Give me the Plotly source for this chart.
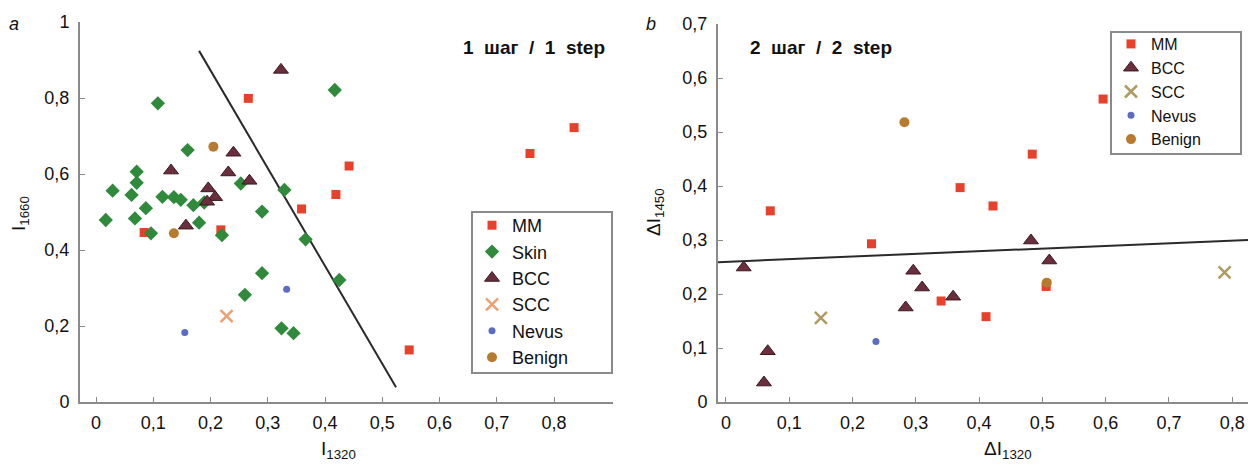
import plotly.graph_objects as go

# ---------------- Panel a data ----------------
mm_a_x = [0.266, 0.835, 0.758, 0.442, 0.419, 0.359, 0.084, 0.218, 0.547]
mm_a_y = [0.799, 0.722, 0.654, 0.621, 0.546, 0.508, 0.446, 0.453, 0.137]
skin_a_x = [0.108, 0.417, 0.160, 0.071, 0.071, 0.253, 0.329, 0.029, 0.062, 0.116, 0.136, 0.148, 0.170, 0.189,
            0.087, 0.290, 0.017, 0.068, 0.180, 0.366, 0.096, 0.220, 0.290, 0.260, 0.324, 0.345, 0.425]
skin_a_y = [0.786, 0.821, 0.663, 0.606, 0.577, 0.575, 0.558, 0.556, 0.545, 0.540, 0.539, 0.532, 0.518, 0.525,
            0.510, 0.501, 0.479, 0.483, 0.472, 0.428, 0.444, 0.439, 0.339, 0.282, 0.194, 0.181, 0.321]
bcc_a_x = [0.323, 0.240, 0.131, 0.231, 0.268, 0.196, 0.208, 0.194, 0.157]
bcc_a_y = [0.874, 0.656, 0.609, 0.604, 0.582, 0.562, 0.539, 0.527, 0.464]
scc_a_x = [0.228]
scc_a_y = [0.226]
nevus_a_x = [0.333, 0.155]
nevus_a_y = [0.297, 0.183]
benign_a_x = [0.205, 0.136]
benign_a_y = [0.672, 0.444]
line_a_x = [0.180, 0.524]
line_a_y = [0.924, 0.039]

# ---------------- Panel b data ----------------
mm_b_x = [0.596, 0.484, 0.370, 0.422, 0.070, 0.230, 0.340, 0.411, 0.506]
mm_b_y = [0.561, 0.459, 0.397, 0.363, 0.354, 0.293, 0.187, 0.158, 0.214]
bcc_b_x = [0.028, 0.296, 0.310, 0.284, 0.066, 0.060, 0.482, 0.511, 0.359]
bcc_b_y = [0.249, 0.243, 0.212, 0.175, 0.094, 0.036, 0.299, 0.262, 0.195]
scc_b_x = [0.150, 0.788]
scc_b_y = [0.156, 0.240]
nevus_b_x = [0.237]
nevus_b_y = [0.112]
benign_b_x = [0.282, 0.507]
benign_b_y = [0.518, 0.221]
line_b_x = [-0.0126, 0.825]
line_b_y = [0.259, 0.300]

xticks_a = [0, 0.1, 0.2, 0.3, 0.4, 0.5, 0.6, 0.7, 0.8]
xtext_a = ["0", "0,1", "0,2", "0,3", "0,4", "0,5", "0,6", "0,7", "0,8"]
yticks_a = [0, 0.2, 0.4, 0.6, 0.8, 1]
ytext_a = ["0", "0,2", "0,4", "0,6", "0,8", "1"]
xticks_b = [0, 0.1, 0.2, 0.3, 0.4, 0.5, 0.6, 0.7, 0.8]
xtext_b = ["0", "0,1", "0,2", "0,3", "0,4", "0,5", "0,6", "0,7", "0,8"]
yticks_b = [0, 0.1, 0.2, 0.3, 0.4, 0.5, 0.6, 0.7]
ytext_b = ["0", "0,1", "0,2", "0,3", "0,4", "0,5", "0,6", "0,7"]

FONT = "Liberation Sans, Arial, sans-serif"
NARROW = "Liberation Sans Narrow, Liberation Sans, Arial, sans-serif"
C_MM = "#e8402a"
C_SKIN = "#2f8a3c"
C_BCC = "#6b2e3c"
C_SCC_A = "#f0a070"
C_SCC_B = "#b09a60"
C_NEV = "#5a6cc8"
C_BEN = "#b87a2e"
AXC = "#8a8a8a"

fig = go.Figure()

def add(x, y, name, sym, color, size, xa, ya, leg, lw=0, lc=None):
    fig.add_trace(go.Scatter(
        x=x, y=y, mode="markers", name=name, xaxis=xa, yaxis=ya, legend=leg,
        marker=dict(symbol=sym, color=color, size=size,
                    line=dict(width=lw, color=lc if lc else color)),
        cliponaxis=False))

fig.add_trace(go.Scatter(x=line_a_x, y=line_a_y, mode="lines", line=dict(color="#2a2a2a", width=2),
                         showlegend=False, xaxis="x", yaxis="y"))
fig.add_trace(go.Scatter(x=line_b_x, y=line_b_y, mode="lines", line=dict(color="#2a2a2a", width=2),
                         showlegend=False, xaxis="x2", yaxis="y2"))

add(mm_a_x, mm_a_y, "MM", "square", C_MM, 9, "x", "y", "legend")
add(skin_a_x, skin_a_y, "Skin", "diamond", C_SKIN, 11, "x", "y", "legend")
add(bcc_a_x, bcc_a_y, "BCC", "triangle-up", C_BCC, 13, "x", "y", "legend", 1, "#3a1a20")
add(scc_a_x, scc_a_y, "SCC", "x-thin", C_SCC_A, 12, "x", "y", "legend", 2.5, C_SCC_A)
add(nevus_a_x, nevus_a_y, "Nevus", "circle", C_NEV, 7, "x", "y", "legend")
add(benign_a_x, benign_a_y, "Benign", "circle", C_BEN, 10, "x", "y", "legend")

add(mm_b_x, mm_b_y, "MM", "square", C_MM, 9, "x2", "y2", "legend2")
add(bcc_b_x, bcc_b_y, "BCC", "triangle-up", C_BCC, 13, "x2", "y2", "legend2", 1, "#3a1a20")
add(scc_b_x, scc_b_y, "SCC", "x-thin", C_SCC_B, 12, "x2", "y2", "legend2", 2.5, C_SCC_B)
add(nevus_b_x, nevus_b_y, "Nevus", "circle", C_NEV, 7, "x2", "y2", "legend2")
add(benign_b_x, benign_b_y, "Benign", "circle", C_BEN, 10, "x2", "y2", "legend2")

ax_common = dict(showgrid=False, zeroline=False, showline=True, linecolor=AXC, linewidth=2,
                 ticks="inside", ticklen=5, tickcolor=AXC, tickwidth=1,
                 tickfont=dict(family=FONT, size=18, color="#111"), automargin=False)

H = 464
W = 1248
yb = (H - 402) / H

def px(x):
    return x / W

def py(y):
    return (H - y) / H

fig.update_layout(
    width=W, height=H, margin=dict(l=0, r=0, t=0, b=0),
    paper_bgcolor="white", plot_bgcolor="white",
    xaxis=dict(ax_common, domain=[px(80), px(613)], range=[-0.028, 0.903],
               tickvals=xticks_a, ticktext=xtext_a, anchor="y", ticklabelstandoff=3),
    yaxis=dict(ax_common, domain=[yb, py(22)], range=[0, 1.0],
               tickvals=yticks_a, ticktext=ytext_a, anchor="x", ticklabelstandoff=5),
    xaxis2=dict(ax_common, domain=[px(718), 1.0], range=[-0.0126, 0.825],
                tickvals=xticks_b, ticktext=xtext_b, anchor="y2", ticklabelstandoff=3),
    yaxis2=dict(ax_common, domain=[yb, py(24)], range=[0, 0.7],
                tickvals=yticks_b, ticktext=ytext_b, anchor="x2", ticklabelstandoff=5),
    legend=dict(x=px(472), y=py(207), xanchor="left", yanchor="top",
                borderwidth=0, bgcolor="rgba(0,0,0,0)",
                font=dict(family=FONT, size=18, color="#111"), tracegroupgap=0,
                itemwidth=30),
    legend2=dict(x=px(1111), y=py(27), xanchor="left", yanchor="top",
                 borderwidth=0, bgcolor="rgba(0,0,0,0)",
                 font=dict(family=FONT, size=16, color="#111"), tracegroupgap=0,
                 itemwidth=30),
    showlegend=True,
    shapes=[
        dict(type="rect", xref="paper", yref="paper", x0=px(472), x1=px(612), y0=py(373), y1=py(212),
             line=dict(color=AXC, width=2), fillcolor="rgba(0,0,0,0)", layer="above"),
        dict(type="rect", xref="paper", yref="paper", x0=px(1111), x1=px(1241), y0=py(154), y1=py(32),
             line=dict(color=AXC, width=2), fillcolor="rgba(0,0,0,0)", layer="above"),
    ],
)

NB = "\u00a0\u00a0"
ann = [
    dict(text="<i>a</i>", x=14, y=24, font=dict(family=FONT, size=18, color="#111")),
    dict(text="<i>b</i>", x=651, y=24, font=dict(family=FONT, size=18, color="#111")),
    dict(text="<b>1" + NB + "шаг" + NB + "/" + NB + "1" + NB + "step</b>", x=607, y=47, xanchor="right",
         font=dict(family=NARROW, size=19, color="#111")),
    dict(text="<b>2" + NB + "шаг" + NB + "/" + NB + "2" + NB + "step</b>", x=748, y=48, xanchor="left",
         font=dict(family=NARROW, size=19, color="#111")),
    dict(text="I<sub>1320</sub>", x=338, y=450, font=dict(family=FONT, size=19, color="#111")),
    dict(text="ΔI<sub>1320</sub>", x=1008, y=450, font=dict(family=FONT, size=19, color="#111")),
    dict(text="I<sub>1660</sub>", x=20, y=214, textangle=-90, font=dict(family=FONT, size=19, color="#111")),
    dict(text="ΔI<sub>1450</sub>", x=655, y=212, textangle=-90, font=dict(family=FONT, size=19, color="#111")),
]
for a in ann:
    a["xref"] = "paper"
    a["yref"] = "paper"
    a["showarrow"] = False
    a["x"] = px(a["x"])
    a["y"] = py(a["y"])
    a.setdefault("xanchor", "center")
    a["yanchor"] = "middle"
fig.update_layout(annotations=ann)

fig.write_html("out.html", config={"displayModeBar": False},
               post_script="document.body.style.margin='0';document.body.style.padding='0';")
